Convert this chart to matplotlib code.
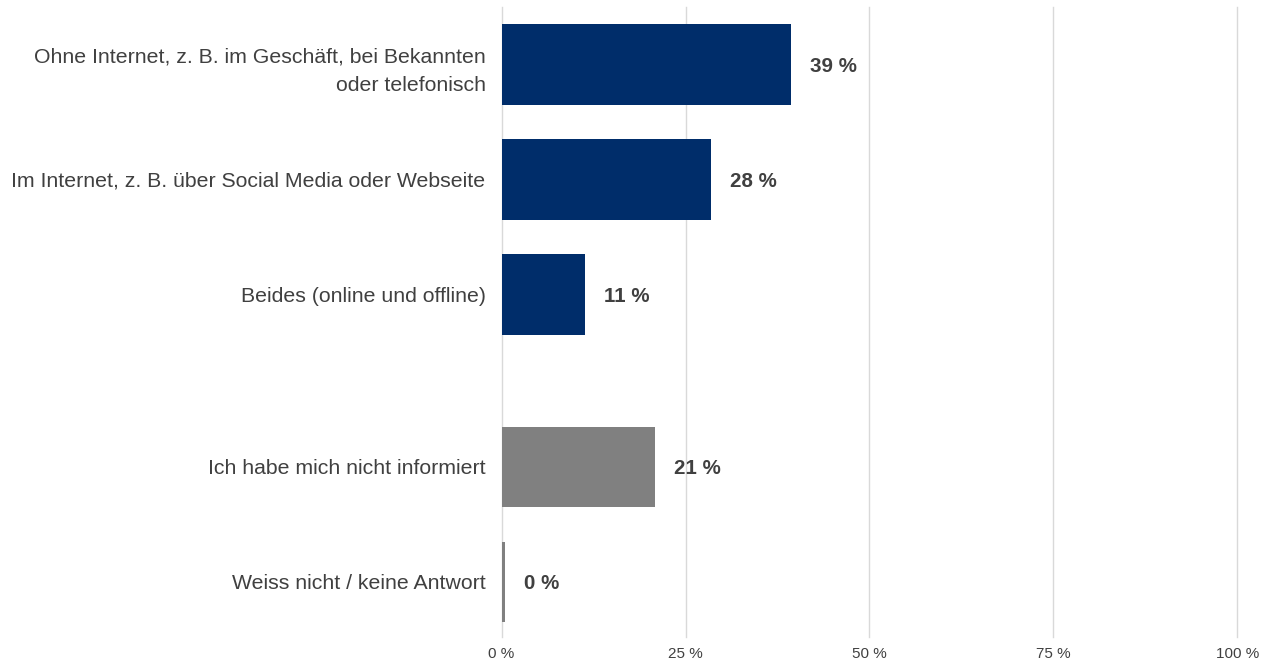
import matplotlib.pyplot as plt
import numpy as np

plt.rcParams['font.family'] = ['Liberation Sans', 'DejaVu Sans']

categories = [
    "Ohne Internet, z. B. im Geschäft, bei Bekannten\noder telefonisch",
    "Im Internet, z. B. über Social Media oder Webseite",
    "Beides (online und offline)",
    "Ich habe mich nicht informiert",
    "Weiss nicht / keine Antwort",
]
values = [39.3, 28.4, 11.4, 20.8, 0.4]
value_labels = ["39 %", "28 %", "11 %", "21 %", "0 %"]
x_ticks = [0, 25, 50, 75, 100]

# extra gap before the last two answers
positions = [0, 1, 2, 3.5, 4.5]
colors = ["#002D6A"] * 3 + ["#808080"] * 2
text_color = "#404040"

fig = plt.figure(figsize=(12.73, 6.61), dpi=100)
ax = fig.add_axes([0.394, 0.0363, 0.578, 0.953])

ax.barh(positions, values, height=0.7, color=colors, zorder=3)

for pos, val, lab in zip(positions, values, value_labels):
    ax.annotate(lab, (val, pos), xytext=(19, -2), textcoords='offset pixels',
                va='center', ha='left', fontsize=14.8, fontweight='bold',
                color=text_color)

ax.set_xlim(0, 100)
ax.set_ylim(4.98, -0.5)
ax.set_yticks(positions)
ax.set_yticklabels(categories, fontsize=15.3, color=text_color, linespacing=1.62)
ax.set_xticks(x_ticks)
ax.set_xticklabels([f"{t} %" for t in x_ticks], fontsize=11, color=text_color)
ax.tick_params(axis='both', length=0)
ax.tick_params(axis='y', pad=11.5)
ax.tick_params(axis='x', pad=7)
ax.grid(axis='x', color='#D9D9D9', linewidth=1, zorder=0)
for g in ax.get_xgridlines():
    g.set_clip_on(False)
for s in ax.spines.values():
    s.set_visible(False)

fig.savefig("out.png", dpi=100)
